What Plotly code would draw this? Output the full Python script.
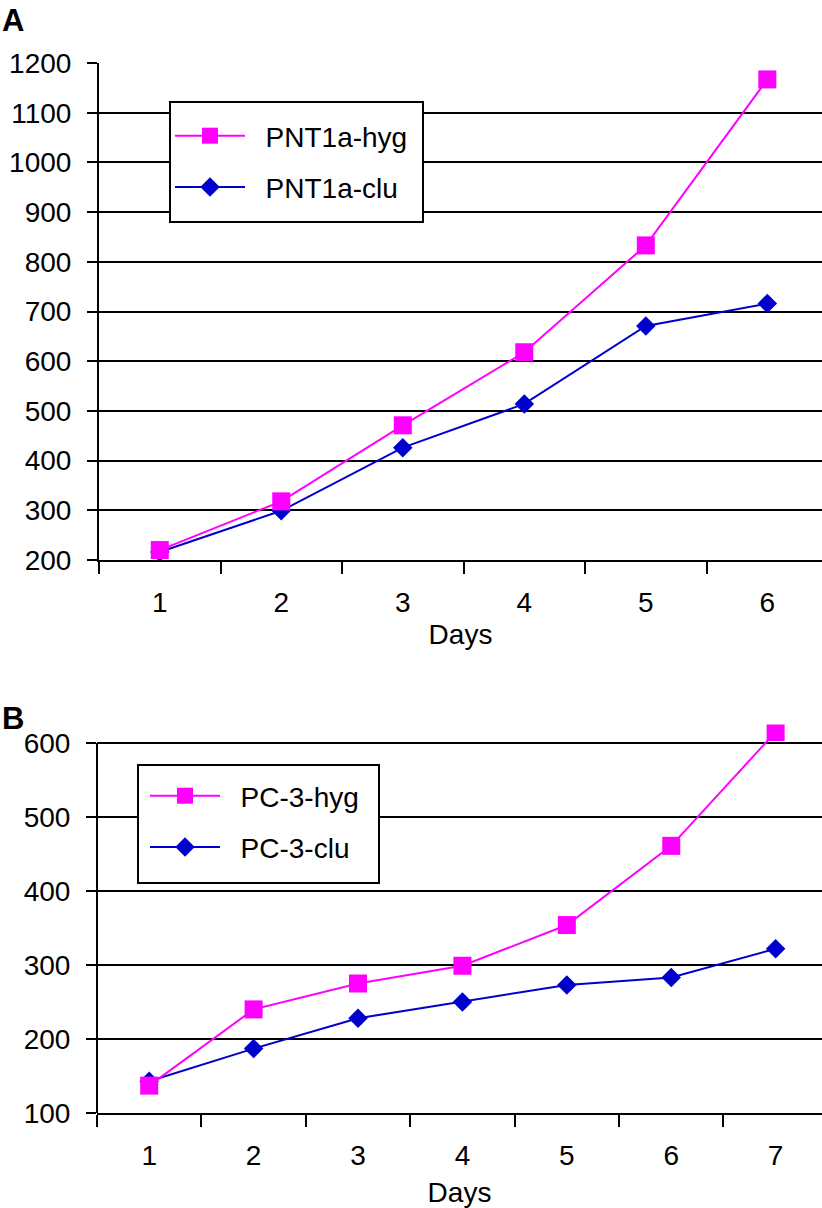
import plotly.graph_objects as go

W, H = 822, 1208
FONT = "Liberation Sans, Arial, Helvetica, sans-serif"

# ---- data ----
days_a = ["1", "2", "3", "4", "5", "6"]
pnt_hyg = [220, 318, 471, 618, 833, 1167]
pnt_clu = [216, 299, 426, 514, 671, 716]

days_b = ["1", "2", "3", "4", "5", "6", "7"]
pc3_hyg = [137, 240, 275, 299, 354, 461, 615]
pc3_clu = [143, 187, 228, 250, 273, 283, 322]

MAGENTA = "#FF00FF"
BLUE = "#0000CC"
GAP = "\u00a0\u00a0"  # visual gap between legend symbol and label

fig = go.Figure()

def add_pair(x, hyg, clu, name_h, name_c, xa, ya, leg):
    fig.add_trace(go.Scatter(x=x, y=clu, name=GAP + name_c, mode="lines+markers",
                             line=dict(color=BLUE, width=2),
                             marker=dict(symbol="diamond", size=15, color=BLUE, line=dict(width=0)),
                             xaxis=xa, yaxis=ya, legend=leg, legendgroup=name_c, legendrank=2))
    fig.add_trace(go.Scatter(x=x, y=hyg, name=GAP + name_h, mode="lines+markers",
                             line=dict(color=MAGENTA, width=2),
                             marker=dict(symbol="square", size=18, color=MAGENTA, line=dict(width=0)),
                             xaxis=xa, yaxis=ya, legend=leg, legendgroup=name_h, legendrank=1))

add_pair(days_a, pnt_hyg, pnt_clu, "PNT1a-hyg", "PNT1a-clu", "x", "y", "legend")
add_pair(days_b, pc3_hyg, pc3_clu, "PC-3-hyg", "PC-3-clu", "x2", "y2", "legend2")

def fy(px):
    return 1 - px / H

def fx(px):
    return px / W

axis_font = dict(family=FONT, size=28, color="black")

xcommon = dict(type="category", tickson="boundaries", ticks="outside", ticklen=12,
               tickwidth=2, tickcolor="black", showgrid=False, showline=True,
               linecolor="black", linewidth=2, tickfont=axis_font, automargin=False,
               ticklabelstandoff=16, fixedrange=True)
ycommon = dict(ticks="outside", ticklen=10, tickwidth=2, tickcolor="black",
               showgrid=True, gridcolor="black", gridwidth=2,
               linecolor="black", linewidth=2, tickfont=axis_font, dtick=100, tick0=0,
               zeroline=False, ticklabelstandoff=10, automargin=False, fixedrange=True)

# panel B: 600 gridline at 743px, 100 at 1113px; range extended slightly so the
# last point is visible; the axis line is drawn only up to 600.
b_top_val = 625
b_px_per = (1113 - 743) / 500.0
b_top_px = 743 - (b_top_val - 600) * b_px_per

legend_common = dict(xanchor="left", yanchor="top", bgcolor="rgba(0,0,0,0)",
                     borderwidth=0, font=dict(family=FONT, size=28, color="black"),
                     traceorder="grouped", tracegroupgap=12, itemwidth=70)

fig.update_layout(
    width=W, height=H, autosize=False,
    margin=dict(l=0, r=0, t=0, b=0, pad=0, autoexpand=False),
    paper_bgcolor="white", plot_bgcolor="white",
    font=dict(family=FONT, color="black"),
    xaxis=dict(xcommon, domain=[fx(99), 1], range=[-0.5, 5.45], anchor="y",
               title=dict(text="Days", font=axis_font, standoff=8)),
    yaxis=dict(ycommon, domain=[fy(560), fy(63)], range=[200, 1200], anchor="x",
               showline=True),
    xaxis2=dict(xcommon, domain=[fx(97), 1], range=[-0.5, 6.444], anchor="y2",
                title=dict(text="Days", font=axis_font, standoff=13)),
    yaxis2=dict(ycommon, domain=[fy(1113), fy(b_top_px)], range=[100, b_top_val],
                anchor="x2", showline=False, tickvals=[100, 200, 300, 400, 500, 600]),
    legend=dict(legend_common, x=fx(170), y=fy(111)),
    legend2=dict(legend_common, x=fx(145), y=fy(771)),
    showlegend=True,
    shapes=[
        # legend frames
        dict(type="rect", xref="paper", yref="paper", x0=fx(170), x1=fx(423),
             y0=fy(222), y1=fy(102), fillcolor="white",
             line=dict(color="black", width=2), layer="above"),
        dict(type="rect", xref="paper", yref="paper", x0=fx(138), x1=fx(379),
             y0=fy(883), y1=fy(765), fillcolor="white",
             line=dict(color="black", width=2), layer="above"),
        # panel B vertical axis line (up to the 600 gridline)
        dict(type="line", xref="x2 domain", yref="y2", x0=0, x1=0, y0=100, y1=600,
             line=dict(color="black", width=2), layer="above"),
    ],
    annotations=[
        dict(text="<b>A</b>", x=0, y=fy(1), xref="paper", yref="paper",
             xanchor="left", yanchor="top", showarrow=False,
             font=dict(family=FONT, size=31, color="black")),
        dict(text="<b>B</b>", x=0, y=fy(699), xref="paper", yref="paper",
             xanchor="left", yanchor="top", showarrow=False,
             font=dict(family=FONT, size=31, color="black")),
    ],
)

fig.write_html("out.html", config={"displayModeBar": False},
               post_script="document.body.style.margin='0';document.body.style.overflow='hidden';")
